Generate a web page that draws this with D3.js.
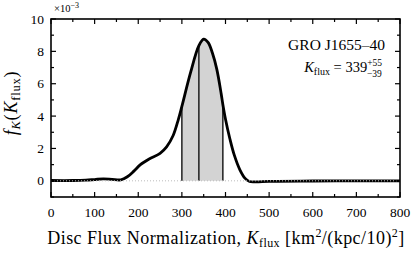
<!DOCTYPE html>
<html>
<head>
<meta charset="utf-8">
<script src="https://cdn.jsdelivr.net/npm/d3@7"></script>
<style>
  body { margin: 0; background: #fff; }
</style>
</head>
<body>
<div id="plot"></div>
<script>
// posterior of K_flux (x) and density in units of 1e-3 (y)
var kflux = [0, 50, 80, 100, 120, 140, 160, 175, 190, 205, 225, 250, 265, 280, 292, 300, 320, 339, 350, 360, 370, 380, 390, 394, 400, 410, 420, 433, 445, 455, 470, 500, 600, 700, 800];
var dens  = [0.02, 0.02, 0.04, 0.08, 0.12, 0.09, 0.06, 0.25, 0.6, 1.0, 1.35, 1.7, 2.1, 2.8, 3.8, 4.6, 6.7, 8.35, 8.75, 8.55, 7.9, 6.9, 5.4, 4.7, 3.8, 2.6, 1.6, 0.68, 0.15, -0.04, -0.06, -0.03, -0.01, 0.0, 0.0];
var kMedian = 339, kLow = 300, kHigh = 394;
var xTicks = [0, 100, 200, 300, 400, 500, 600, 700, 800];
var yTicks = [0, 2, 4, 6, 8, 10];

var data = kflux.map(function(k, i) { return {k: k, f: dens[i]}; });

var margin = {top: 19, right: 11, bottom: 58, left: 51};
var width = 411 - margin.left - margin.right;
var height = 255 - margin.top - margin.bottom;

var root = d3.select("div#plot").append("svg")
    .attr("width", 411)
    .attr("height", 255)
    .attr("font-family", "'Liberation Serif', 'DejaVu Serif', serif");
var svg = root.append("g")
    .attr("transform", "translate(" + margin.left + "," + margin.top + ")");

var x = d3.scaleLinear().domain([0, 800]).range([0, width]);
var y = d3.scaleLinear().domain([-1, 10]).range([height, 0]);

var curve = d3.curveCatmullRom;

// shaded 1-sigma region
svg.append("clipPath").attr("id", "band")
  .append("rect")
    .attr("x", x(kLow)).attr("width", x(kHigh) - x(kLow))
    .attr("y", 0).attr("height", height);

svg.append("path")
    .datum(data)
    .attr("clip-path", "url(#band)")
    .attr("fill", "#d3d3d3")
    .attr("d", d3.area().x(d => x(d.k)).y0(y(0)).y1(d => y(d.f)).curve(curve));

// vertical lines at median and bounds
function fAt(k) { return data.find(d => d.k === k).f; }
[kLow, kMedian, kHigh].forEach(function(k) {
  svg.append("line")
      .attr("x1", x(k)).attr("x2", x(k))
      .attr("y1", y(0)).attr("y2", y(fAt(k)))
      .attr("stroke", "#000").attr("stroke-width", 1.3);
});

// main curve
svg.append("path")
    .datum(data)
    .attr("fill", "none")
    .attr("stroke", "#000")
    .attr("stroke-width", 2.8)
    .attr("stroke-linejoin", "round")
    .attr("d", d3.line().x(d => x(d.k)).y(d => y(d.f)).curve(curve));

// zero line
svg.append("line")
    .attr("x1", 0).attr("x2", width)
    .attr("y1", y(0)).attr("y2", y(0))
    .attr("stroke", "#bbb").attr("stroke-width", 1)
    .attr("stroke-dasharray", "1,2");

// ticks on all four sides, pointing inward
var ax = svg.append("g").attr("stroke", "#000");
d3.range(0, 801, 50).forEach(function(v) {
  var len = v % 100 === 0 ? 5 : 3;
  ax.append("line").attr("x1", x(v)).attr("x2", x(v)).attr("y1", height).attr("y2", height - len).attr("stroke-width", 1.2);
  ax.append("line").attr("x1", x(v)).attr("x2", x(v)).attr("y1", 0).attr("y2", len).attr("stroke-width", 1.2);
});
d3.range(-1, 11, 1).forEach(function(v) {
  var len = v % 2 === 0 ? 5 : 3;
  ax.append("line").attr("y1", y(v)).attr("y2", y(v)).attr("x1", 0).attr("x2", len).attr("stroke-width", 1.2);
  ax.append("line").attr("y1", y(v)).attr("y2", y(v)).attr("x1", width).attr("x2", width - len).attr("stroke-width", 1.2);
});

// frame
svg.append("rect")
    .attr("width", width).attr("height", height)
    .attr("fill", "none").attr("stroke", "#000").attr("stroke-width", 1.6);

// tick labels
svg.selectAll(".xt").data(xTicks).enter().append("text")
    .attr("x", d => x(d)).attr("y", height + 20)
    .attr("text-anchor", "middle").style("font-size", "13.5px")
    .text(d => d);
svg.selectAll(".yt").data(yTicks).enter().append("text")
    .attr("x", -7).attr("y", d => y(d) + 4.5)
    .attr("text-anchor", "end").style("font-size", "13.5px")
    .text(d => d);

// exponent
var ex = svg.append("text").attr("x", 3).attr("y", -7).style("font-size", "10.5px");
ex.append("tspan").text("×10");
ex.append("tspan").attr("dy", -4).style("font-size", "8px").text("−3");

// x title
var xt = root.append("text")
    .attr("x", 226).attr("y", 244)
    .attr("text-anchor", "middle").style("font-size", "18px")
    .style("letter-spacing", "0.45px");
xt.append("tspan").text("Disc Flux Normalization,  ");
xt.append("tspan").style("font-style", "italic").text("K");
xt.append("tspan").attr("dy", 3).style("font-size", "12px").text("flux");
xt.append("tspan").attr("dy", -3).text(" [km");
xt.append("tspan").attr("dy", -7).style("font-size", "12px").text("2");
xt.append("tspan").attr("dy", 7).text("/(kpc/10)");
xt.append("tspan").attr("dy", -7).style("font-size", "12px").text("2");
xt.append("tspan").attr("dy", 7).text("]");

// y title
var yt = root.append("text")
    .attr("transform", "translate(17,103) rotate(-90)")
    .attr("text-anchor", "middle").style("font-size", "18px")
    .style("letter-spacing", "0.8px");
yt.append("tspan").style("font-style", "italic").text("f");
yt.append("tspan").attr("dy", 3).style("font-size", "12.5px").style("font-style", "italic").text("K");
yt.append("tspan").attr("dy", -3).text("(");
yt.append("tspan").style("font-style", "italic").text("K");
yt.append("tspan").attr("dy", 3).style("font-size", "12.5px").text("flux");
yt.append("tspan").attr("dy", -3).text(")");

// annotation
svg.append("text")
    .attr("x", width - 15).attr("y", 31)
    .attr("text-anchor", "end").style("font-size", "15.5px")
    .text("GRO J1655–40");
var ann = svg.append("text")
    .attr("x", width - 18).attr("y", 53)
    .attr("text-anchor", "end").style("font-size", "14.5px");
ann.append("tspan").style("font-style", "italic").text("K");
ann.append("tspan").attr("dy", 3).style("font-size", "10px").text("flux");
ann.append("tspan").attr("dy", -3).text(" = 339");
ann.append("tspan").attr("dy", -6).style("font-size", "9.5px").text("+55");
ann.append("tspan").attr("dy", 11).attr("dx", -15).style("font-size", "9.5px").text("−39");
</script>
</body>
</html>
